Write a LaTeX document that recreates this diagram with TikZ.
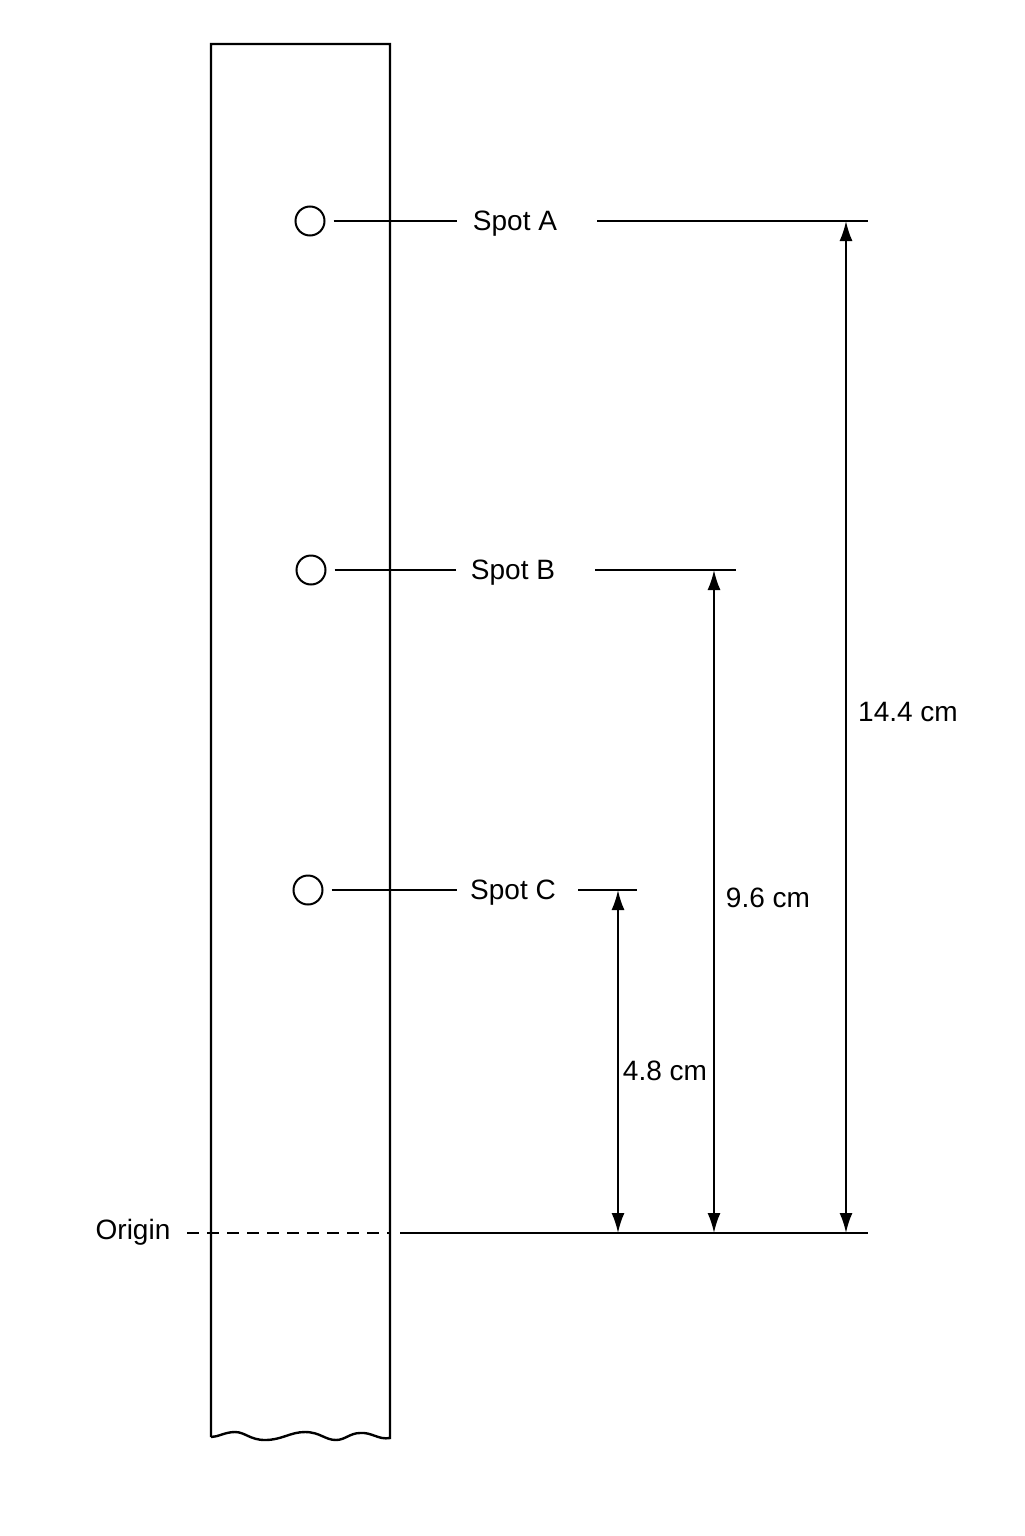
\documentclass[tikz,border=0pt]{standalone}
\usepackage{fontspec}
\setmainfont{Liberation Sans}
\usetikzlibrary{arrows.meta}
\begin{document}
\begin{tikzpicture}[x=0.5pt,y=-0.5pt,
  strip/.style={line width=1.2pt},
  thin/.style={line width=1pt},
  spot/.style={circle,draw,line width=1pt,minimum size=14.5pt,inner sep=0pt},
  lbl/.style={font=\fontsize{14}{17}\selectfont,inner sep=1pt},
  dim/.style={line width=1pt,{Latex[length=10pt,width=6.5pt]}-{Latex[length=10pt,width=6.5pt]}}]
\useasboundingbox (0,0) rectangle (1024,1536);
\fill[white] (0,0) rectangle (1024,1536);
% strip
\draw[strip] (211,1437) -- (211,44) -- (390,44) -- (390,1438)
  .. controls (378,1440) and (372,1432) .. (360,1433)
  .. controls (350,1433) and (345,1440) .. (336,1440)
  .. controls (325,1440) and (320,1432) .. (305,1432)
  .. controls (290,1432) and (282,1440) .. (265,1440)
  .. controls (250,1440) and (245,1432) .. (235,1432)
  .. controls (225,1432) and (218,1437) .. (211,1437);
% spots
\node[spot] (ca) at (310,221) {};
\node[spot] (cb) at (311,570) {};
\node[spot] (cc) at (308,890) {};
\node[lbl] (la) at (515,224) {Spot A};
\node[lbl] (lb) at (513,573) {Spot B};
\node[lbl] (lc) at (513,893) {Spot C};
\draw[thin,shorten <=4pt] (ca) -- (457,221);
\draw[thin,shorten <=4pt] (cb) -- (456,570);
\draw[thin,shorten <=4pt] (cc) -- (457,890);
\coordinate (ra) at (868,221);
\coordinate (rb) at (736,570);
\coordinate (rc) at (637,890);
\draw[thin] (597,221) -- (ra);
\draw[thin] (595,570) -- (rb);
\draw[thin] (578,890) -- (rc);
% origin
\node[lbl] (lo) at (133,1232) {Origin};
\draw[thin,dash pattern=on 6pt off 4pt] (187,1233) -- (390,1233);
\coordinate (ro) at (868,1233);
\draw[thin] (400,1233) -- (ro);
% dimensions
\draw[dim] (618,890) -- (618,1233);
\draw[dim] (714,570) -- (714,1233);
\draw[dim] (846,221) -- (846,1233);
\node[lbl] (d1) at (665,1071) {4.8 cm};
\node[lbl] (d2) at (768,898) {9.6 cm};
\node[lbl] (d3) at (908,712) {14.4 cm};
\end{tikzpicture}
\end{document}
